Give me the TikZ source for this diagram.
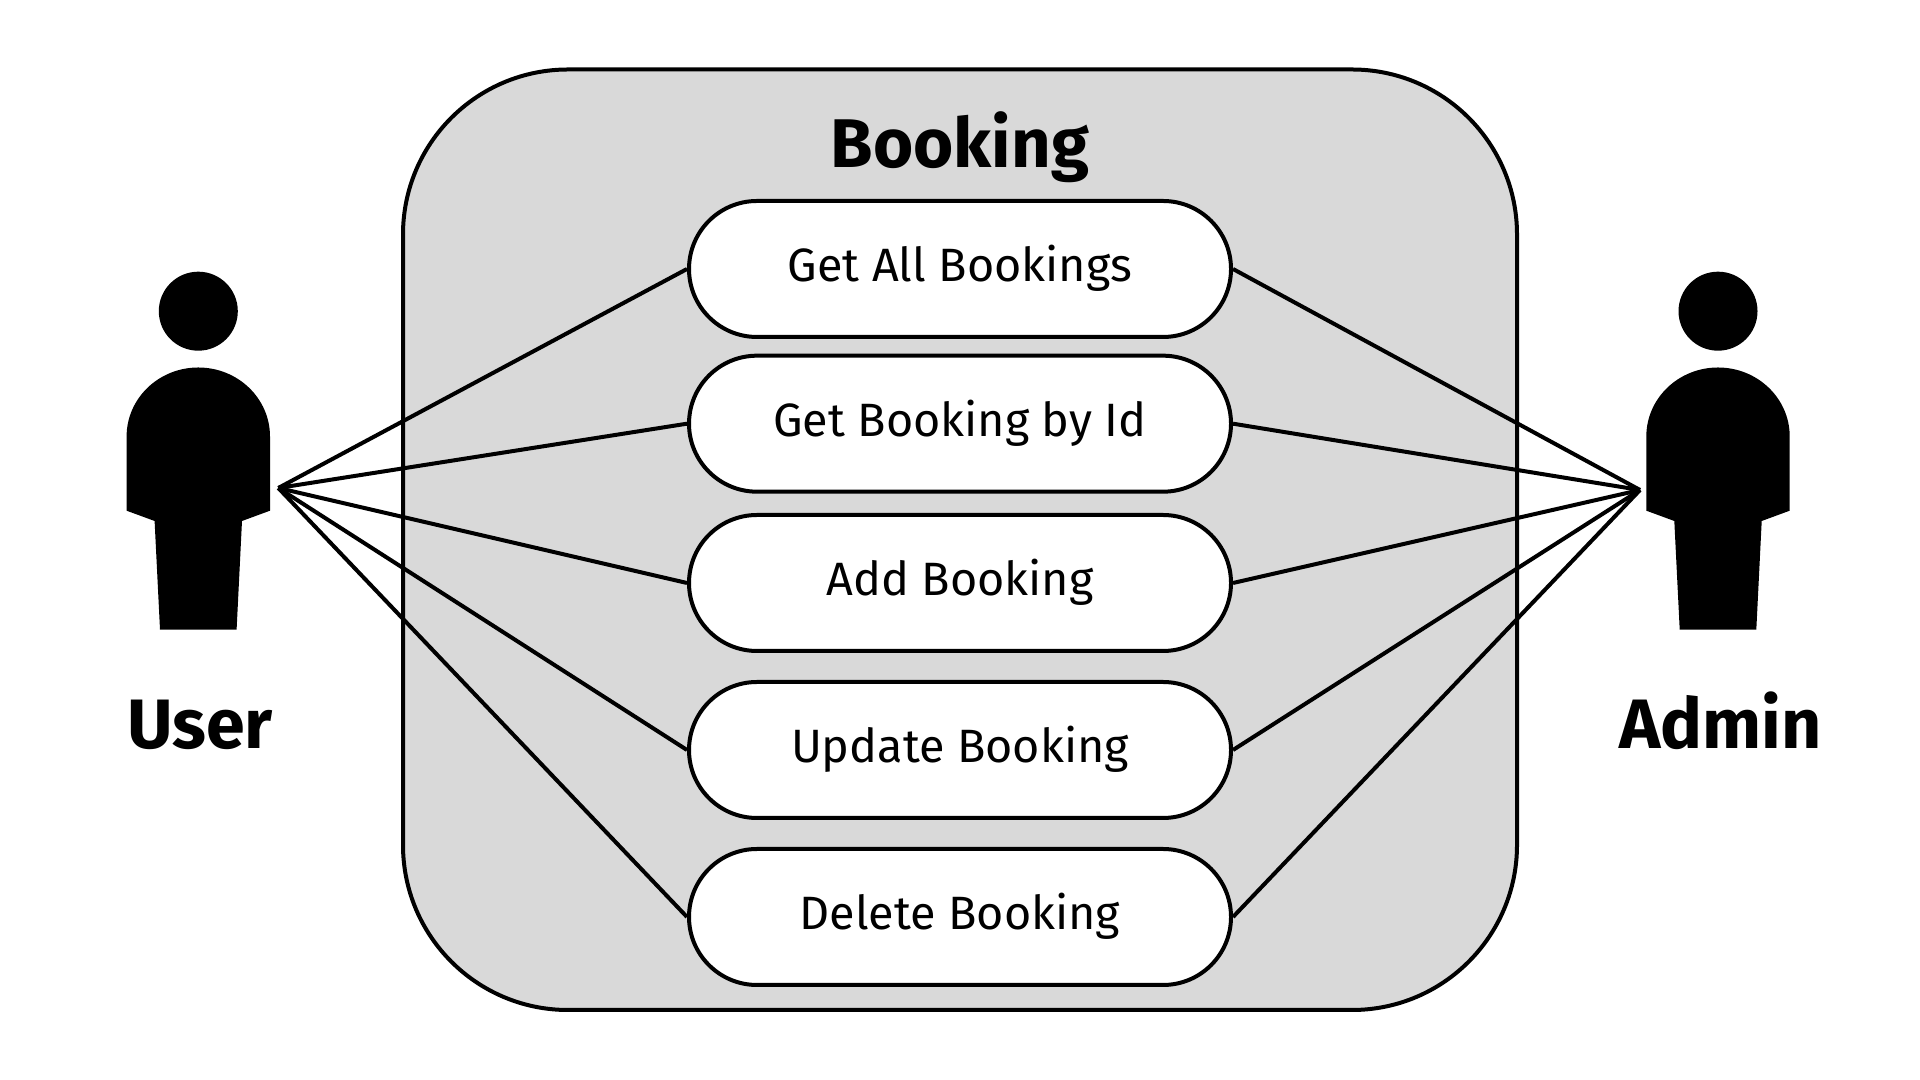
\documentclass[tikz,border=0pt]{standalone}
\usepackage{fontspec}
\setmainfont{Fira Sans}
\definecolor{framegray}{HTML}{D9D9D9}
\tikzset{
	usecase/.style={draw,fill=white,line width=0.04cm,rounded corners=0.68cm,
		minimum width=5.42cm,minimum height=1.36cm,text height=0.45cm,text depth=0.2cm,
		inner sep=0pt,font=\fontsize{13.3}{16}\selectfont},
	actorname/.style={anchor=base,font=\fontsize{19.9}{24}\selectfont\bfseries},
}
\begin{document}
\begin{tikzpicture}[line width=0.04cm]
\useasboundingbox (0,0) rectangle (19.2,10.8);

% Rahmen
\draw[fill=framegray,rounded corners=1.65cm] (4.03,0.70) rectangle (15.17,10.105);
\node (title) at (9.6,9.125) [anchor=base,font=\fontsize{19.6}{24}\selectfont\bfseries] {Booking};

% Anwendungsfaelle
\node[usecase] (getall) at (9.6,8.11) {Get All Bookings};
\node[usecase] (getone) at (9.6,6.563) {Get Booking by Id};
\node[usecase] (add) at (9.6,4.97) {Add Booking};
\node[usecase] (update) at (9.6,3.30) {Update Booking};
\node[usecase] (delete) at (9.6,1.63) {Delete Booking};

% Akteure
\foreach \xpos in {1.983,17.18}{
	\fill (\xpos,7.688) circle[radius=0.395];
	\fill (\xpos-0.717,6.435) arc (180:0:0.717 and 0.69)
		-- (\xpos+0.717,5.693) -- (\xpos+0.437,5.59) -- (\xpos+0.383,4.504)
		-- (\xpos-0.383,4.504) -- (\xpos-0.437,5.59) -- (\xpos-0.717,5.693) -- cycle;
}
\node[actorname] (user) at (2.0,3.31) {User};
\node[actorname] (admin) at (17.205,3.31) {Admin};

% Verbindungen
\coordinate (userhub) at (2.783,5.92);
\coordinate (adminhub) at (16.40,5.90);
\foreach \name in {getall,getone,add,update,delete}{
	\draw (userhub) -- (\name.west);
	\draw (adminhub) -- (\name.east);
}

\end{tikzpicture}
\end{document}
